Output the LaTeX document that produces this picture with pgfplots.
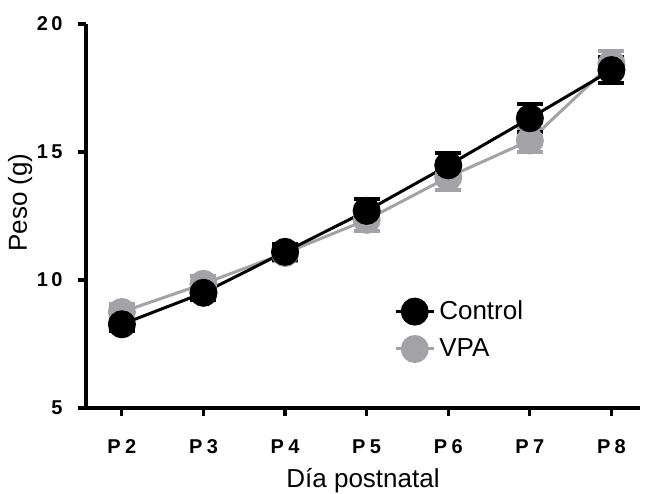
\documentclass[border=0pt]{standalone}
\usepackage{pgfplots}
\pgfplotsset{compat=1.18}
\usepackage{fontspec}
\setmainfont{Liberation Sans}
\definecolor{vpagray}{RGB}{163,163,167}
\pgfplotstableread{
x y e
2 8.27 0.25
3 9.50 0.30
4 11.10 0.30
5 12.70 0.45
6 14.48 0.50
7 16.32 0.55
8 18.20 0.50
}\control
\pgfplotstableread{
x y e
2 8.75 0.30
3 9.85 0.30
4 11.05 0.30
5 12.35 0.45
6 14.02 0.50
7 15.45 0.45
8 18.45 0.50
}\vpa
\begin{document}
\begin{tikzpicture}
\begin{axis}[
  name=ax,
  width=277pt, height=192pt, scale only axis,
  xmin=1.56, xmax=8.35, ymin=5, ymax=20,
  axis lines*=left,
  axis line style={line width=1.6pt, black},
  every tick/.style={line width=1.6pt, black},
  major tick length=4pt, tick align=outside,
  xtick={2,...,8},
  xticklabels={P\hspace{0.22em}2,P\hspace{0.22em}3,P\hspace{0.22em}4,P\hspace{0.22em}5,P\hspace{0.22em}6,P\hspace{0.22em}7,P\hspace{0.22em}8},
  ytick={5,10,15,20},
  yticklabels={5,1\hspace{0.18em}0,1\hspace{0.18em}5,2\hspace{0.18em}0},
  ticklabel style={font=\fontsize{10}{12}\selectfont\bfseries},
  xticklabel style={anchor=base, inner sep=0pt, yshift=-18.5pt},
  yticklabel style={anchor=east, inner sep=0pt, xshift=-7.5pt},
  xlabel={Día postnatal}, ylabel={Peso (g)},
  xlabel style={at={(axis description cs:0.5,0)}, anchor=base, inner sep=0pt, yshift=-39.5pt},
  ylabel style={at={(axis description cs:-0.1065,0.535)}, anchor=base, inner sep=0pt},
  label style={font=\fontsize{13}{15}\selectfont},
  clip=false,
  legend image code/.code={\draw[mark repeat=2, mark phase=2, #1] plot coordinates {(0pt,0pt) (9.5pt,0pt) (19pt,0pt)};},
  legend style={draw=none, fill=none, at={(axis cs:5.26,9.52)}, anchor=north west,
    font=\fontsize{13}{15}\selectfont, row sep=4pt},
  legend cell align=left,
  reverse legend,
]
\addplot[vpagray, line width=1.5pt, mark=*, mark size=6.25pt,
  mark options={solid, fill=vpagray, draw=vpagray},
  error bars/.cd, y dir=both, y explicit,
  error bar style={line width=1.6pt, vpagray},
  error mark options={rotate=90, line width=2pt, mark size=6.5pt, vpagray}]
  table[x=x, y=y, y error=e] {\vpa};
\addlegendentry{VPA}
\addplot[black, line width=1.5pt, mark=*, mark size=6.25pt,
  mark options={solid, fill=black, draw=black},
  error bars/.cd, y dir=both, y explicit,
  error bar style={line width=1.6pt, black},
  error mark options={rotate=90, line width=2pt, mark size=6.5pt, black}]
  table[x=x, y=y, y error=e] {\control};
\addlegendentry{Control}
\end{axis}
\pgfresetboundingbox
\path ([xshift=-43pt, yshift=-43pt]ax.south west) rectangle ([xshift=2.5pt, yshift=12pt]ax.north east);
\end{tikzpicture}
\end{document}
